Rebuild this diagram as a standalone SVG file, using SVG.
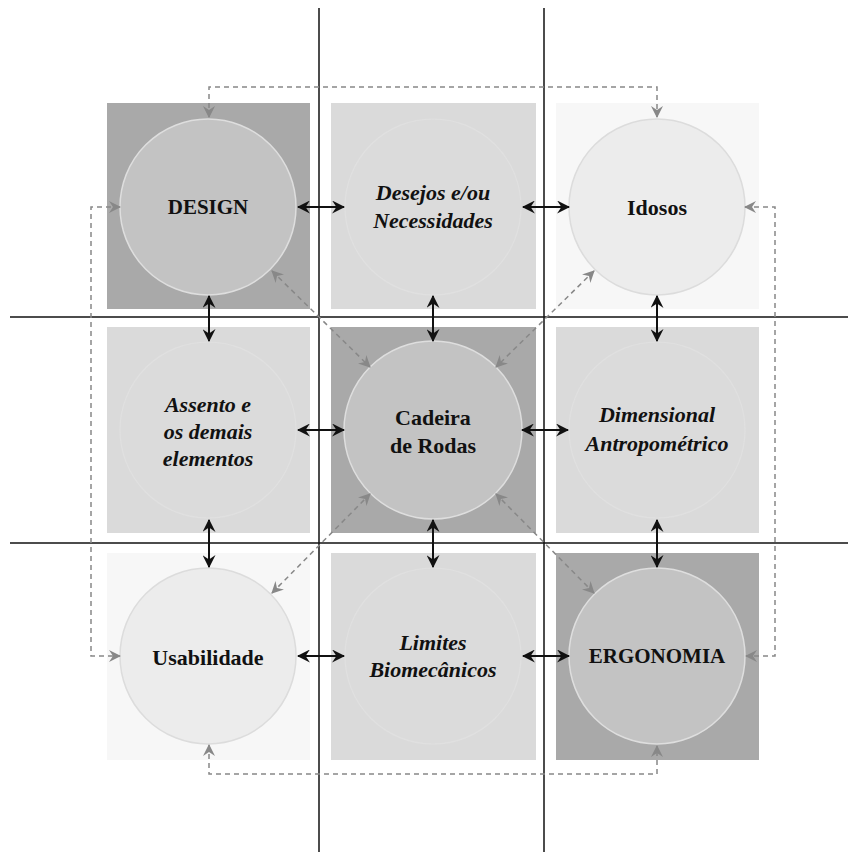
<svg xmlns="http://www.w3.org/2000/svg" width="848" height="852" viewBox="0 0 848 852">
<defs>
<marker id="ab" viewBox="0 0 12 12" refX="11" refY="6" markerWidth="13" markerHeight="13" markerUnits="userSpaceOnUse" orient="auto-start-reverse">
<path d="M0,0 L12,6 L0,12 L4,6 z" fill="#111"/>
</marker>
<marker id="ag" viewBox="0 0 12 12" refX="11" refY="6" markerWidth="12" markerHeight="12" markerUnits="userSpaceOnUse" orient="auto-start-reverse">
<path d="M0,0 L12,6 L0,12 L4,6 z" fill="#888"/>
</marker>
</defs>
<style>
.sq-d{fill:#a9a9a9}
.sq-m{fill:#dadada}
.sq-l{fill:#f7f7f7}
.c-d{fill:#c3c3c3;stroke:#dedede;stroke-width:1.5}
.c-m{fill:#dbdbdb;stroke:#e0e0e0;stroke-width:1.2}
.c-l{fill:#ececec;stroke:#dcdcdc;stroke-width:1.5}
.t{font-family:"Liberation Serif","Times New Roman",serif;font-weight:bold;font-size:22px;fill:#111;text-anchor:middle}
.tc{font-size:21px}
.ti{font-style:italic}
.grid{stroke:#111;stroke-width:1.5;fill:none}
.bl{stroke:#111;stroke-width:2;fill:none;marker-start:url(#ab);marker-end:url(#ab)}
.dg{stroke:#888;stroke-width:1.5;stroke-dasharray:5,4;fill:none;marker-start:url(#ag);marker-end:url(#ag)}
</style>
<rect width="848" height="852" fill="#ffffff"/>

<g id="node-design">
<rect class="sq-d" x="107" y="103" width="203" height="206"/>
<circle class="c-d" cx="208" cy="207" r="88"/>
<text class="t tc" x="208" y="214">DESIGN</text>
</g>
<g id="node-desejos">
<rect class="sq-m" x="331" y="103" width="205" height="206"/>
<circle class="c-m" cx="433" cy="207" r="88"/>
<text class="t ti" x="433" y="200">Desejos e/ou</text>
<text class="t ti" x="433" y="228">Necessidades</text>
</g>
<g id="node-idosos">
<rect class="sq-l" x="556" y="103" width="203" height="206"/>
<circle class="c-l" cx="657" cy="207" r="88"/>
<text class="t" x="657" y="215">Idosos</text>
</g>
<g id="node-assento">
<rect class="sq-m" x="107" y="327" width="203" height="206"/>
<circle class="c-m" cx="208" cy="430" r="88"/>
<text class="t ti" x="208" y="412">Assento e</text>
<text class="t ti" x="208" y="439">os demais</text>
<text class="t ti" x="208" y="466">elementos</text>
</g>
<g id="node-cadeira">
<rect class="sq-d" x="331" y="327" width="205" height="206"/>
<circle class="c-d" cx="433" cy="430" r="89"/>
<text class="t" x="433" y="425">Cadeira</text>
<text class="t" x="433" y="453">de Rodas</text>
</g>
<g id="node-dimensional">
<rect class="sq-m" x="556" y="327" width="203" height="206"/>
<circle class="c-m" cx="657" cy="430" r="88"/>
<text class="t ti" x="657" y="422">Dimensional</text>
<text class="t ti" x="657" y="451">Antropométrico</text>
</g>
<g id="node-usabilidade">
<rect class="sq-l" x="107" y="553" width="203" height="207"/>
<circle class="c-l" cx="208" cy="656" r="88"/>
<text class="t" x="208" y="665">Usabilidade</text>
</g>
<g id="node-limites">
<rect class="sq-m" x="331" y="553" width="205" height="207"/>
<circle class="c-m" cx="433" cy="656" r="88"/>
<text class="t ti" x="433" y="650">Limites</text>
<text class="t ti" x="433" y="677">Biomecânicos</text>
</g>
<g id="node-ergonomia">
<rect class="sq-d" x="556" y="553" width="203" height="207"/>
<circle class="c-d" cx="657" cy="656" r="88"/>
<text class="t tc" x="657" y="663">ERGONOMIA</text>
</g>

<g id="grid">
<line class="grid" x1="319" y1="8" x2="319" y2="852"/>
<line class="grid" x1="544" y1="8" x2="544" y2="852"/>
<line class="grid" x1="10" y1="317" x2="848" y2="317"/>
<line class="grid" x1="10" y1="543" x2="848" y2="543"/>
</g>

<g id="connectors">
<line class="bl" x1="298" y1="207" x2="344" y2="207"/>
<line class="bl" x1="523" y1="207" x2="569" y2="207"/>
<line class="bl" x1="298" y1="430" x2="344" y2="430"/>
<line class="bl" x1="522" y1="430" x2="568" y2="430"/>
<line class="bl" x1="298" y1="656" x2="344" y2="656"/>
<line class="bl" x1="523" y1="656" x2="569" y2="656"/>
<line class="bl" x1="209" y1="296" x2="209" y2="341"/>
<line class="bl" x1="433" y1="296" x2="433" y2="341"/>
<line class="bl" x1="657" y1="296" x2="657" y2="341"/>
<line class="bl" x1="209" y1="520" x2="209" y2="567"/>
<line class="bl" x1="433" y1="520" x2="433" y2="567"/>
<line class="bl" x1="657" y1="520" x2="657" y2="567"/>

<path class="dg" d="M209,117 V87 H657 V117"/>
<path class="dg" d="M120,207 H91 V656 H120"/>
<path class="dg" d="M745,207 H775 V656 H746"/>
<path class="dg" d="M209,745 V774 H657 V746"/>

<line class="dg" x1="272" y1="271" x2="370" y2="367"/>
<line class="dg" x1="594" y1="271" x2="496" y2="367"/>
<line class="dg" x1="272" y1="593" x2="370" y2="494"/>
<line class="dg" x1="594" y1="593" x2="496" y2="494"/>
</g>
</svg>
